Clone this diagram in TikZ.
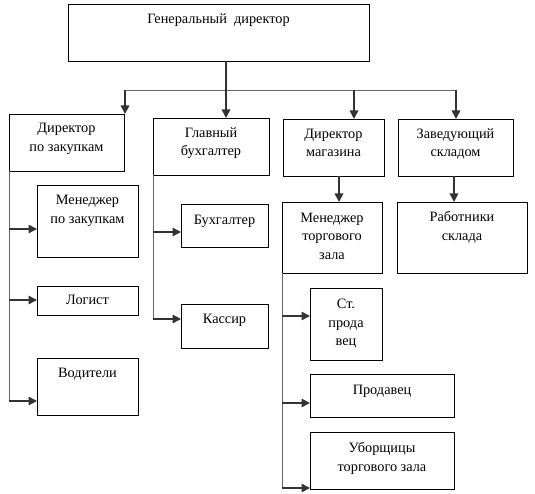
\documentclass[tikz,border=0pt]{standalone}
\usepackage{fontspec}
\setmainfont{Liberation Serif}
\newfontfamily\rusfont[Script=Cyrillic]{Liberation Serif}
\usetikzlibrary{arrows.meta}
\tikzset{
  box/.style={draw=black, line width=0.9pt, inner sep=0pt, outer sep=0pt},
  txt/.style={inner sep=0pt, align=center, anchor=north, font=\rusfont\fontsize{14.3}{18.7}\selectfont},
  arr/.style={draw=black!80, line width=1.6pt, -{Triangle[length=8.5pt,width=8.5pt]}},
  rail/.style={draw=black!60, line width=0.9pt},
}
\newcommand\bx[7]{%
  \node[box, minimum width={(#4)-(#2)}, minimum height={(#5)-(#3)}] (#1) at ({((#2)+(#4))/2},{((#3)+(#5))/2}) {};
  \node[txt] (#1-t) at ({((#2)+(#4))/2},{(#6)-13.09}) {\strut #7};
}
\begin{document}
\begin{tikzpicture}[x=1pt,y=-1pt]
\useasboundingbox (0,0) rectangle (535,494);
% boxes
\bx{gd}{68}{4}{369}{61}{23.5}{Генеральный\ \ директор}
\bx{dz}{9}{114}{124}{171}{132.5}{Директор\\по закупкам}
\bx{gb}{153}{118}{269}{175}{137}{Главный\\бухгалтер}
\bx{dm}{283}{119}{384}{176}{138}{Директор\\магазина}
\bx{zs}{398}{119}{513}{176}{138}{Заведующий\\складом}
\bx{mz}{37}{185}{138}{257}{204.5}{Менеджер\\по закупкам}
\bx{lg}{37}{286}{138}{315}{304.3}{Логист}
\bx{vd}{37}{358}{138}{415}{377.3}{Водители}
\bx{bh}{181}{204}{268}{247}{224}{Бухгалтер}
\bx{ks}{181}{304}{268}{348}{323.3}{Кассир}
\bx{mt}{282}{202}{382}{273}{222}{Менеджер\\торгового\\зала}
\bx{rs}{397}{202}{527}{273}{221.5}{Работники\\склада}
\bx{sp}{310}{288}{382}{360}{308.3}{Ст.\\прода\\вец}
\bx{pr}{310}{374}{454}{417}{394}{Продавец}
\bx{ub}{310}{432}{454}{489}{452.3}{Уборщицы\\торгового зала}
% coordinates
\coordinate (g0) at (226,61);
\coordinate (busL) at (125,90);
\coordinate (bus3) at (354,90);
\coordinate (busR) at (456,90);
\coordinate (dmo) at (339,176);
\coordinate (zso) at (454,176);
\coordinate (l1) at (9,229);
\coordinate (l2) at (9,300);
\coordinate (l3) at (9,401);
\coordinate (m1) at (153,232);
\coordinate (m2) at (153,319);
\coordinate (n1) at (282,316);
\coordinate (n2) at (282,403);
\coordinate (n3) at (282,488);
% bus
\draw[rail] (busL) -- (busR);
\draw[arr] (g0) -- (g0 |- gb.north);
\draw[arr] (busL) -- (busL |- dz.north);
\draw[arr] (bus3) -- (bus3 |- dm.north);
\draw[arr] (busR) -- (busR |- zs.north);
\draw[arr] (dmo) -- (dmo |- mt.north);
\draw[arr] (zso) -- (zso |- rs.north);
% rails
\draw[rail] (dz.south west) -- (l3);
\draw[arr] (l1) -- (l1 -| mz.west);
\draw[arr] (l2) -- (l2 -| lg.west);
\draw[arr] (l3) -- (l3 -| vd.west);
\draw[rail] (gb.south west) -- (m2);
\draw[arr] (m1) -- (m1 -| bh.west);
\draw[arr] (m2) -- (m2 -| ks.west);
\draw[rail] (mt.south west) -- (n3);
\draw[arr] (n1) -- (n1 -| sp.west);
\draw[arr] (n2) -- (n2 -| pr.west);
\draw[arr] (n3) -- (n3 -| ub.west);
\end{tikzpicture}
\end{document}
